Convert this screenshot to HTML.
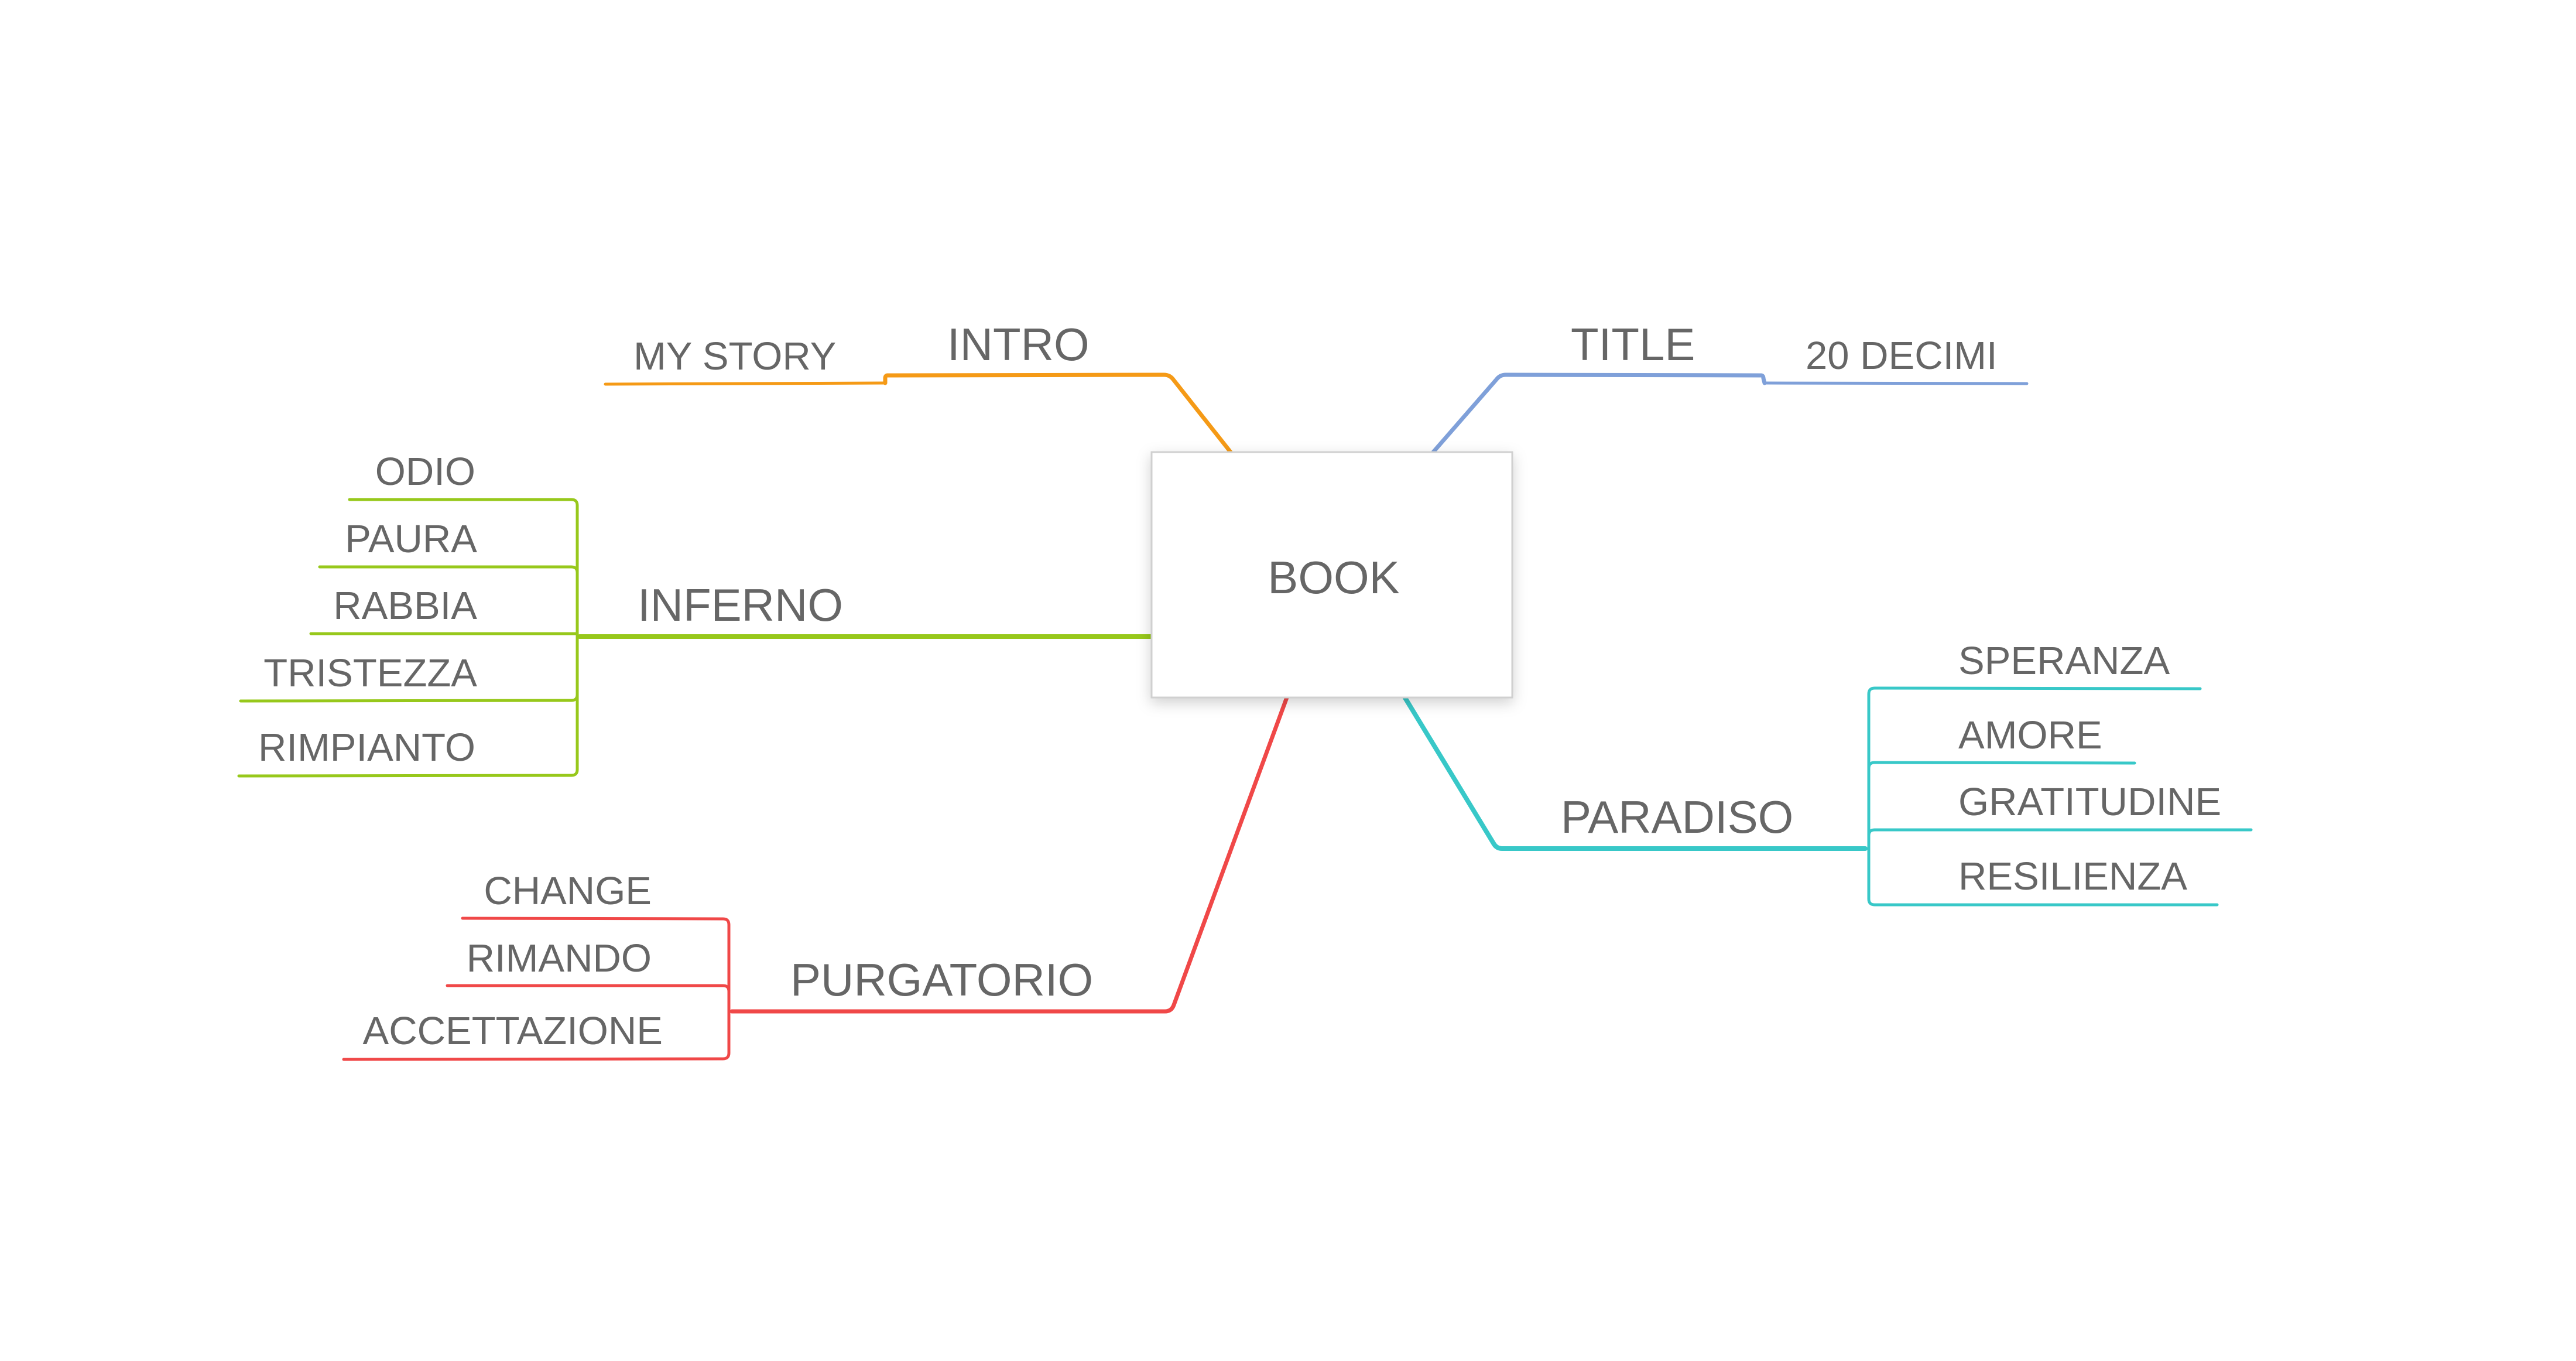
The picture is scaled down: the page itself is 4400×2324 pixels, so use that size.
<!DOCTYPE html>
<html><head><meta charset="utf-8"><style>
html,body{margin:0;padding:0;background:#fff;}
svg{display:block;}
text{font-family:"Liberation Sans",Arial,sans-serif;fill:#666;}
</style></head><body>
<svg width="4400" height="2324" viewBox="0 0 4400 2324" xmlns="http://www.w3.org/2000/svg">
<defs>
<filter id="sh" x="-20%" y="-20%" width="140%" height="140%">
<feDropShadow dx="0" dy="8" stdDeviation="12" flood-color="#000" flood-opacity="0.18"/>
</filter>
</defs>
<g fill="none" stroke-linecap="round" stroke-linejoin="round">
<!-- INTRO orange -->
<path d="M2102,772 L2004,648 Q1998,640 1988,640 L1516,641 Q1512,641 1512,646 L1512,654" stroke="#f59a16" stroke-width="7"/>
<path d="M1512,654 L1034,656" stroke="#f59a16" stroke-width="5"/>
<!-- TITLE blue -->
<path d="M2448,772 L2556,648 Q2562,640 2572,640 L3008,641 Q3012,641 3012,646 L3014,654" stroke="#7fa0d9" stroke-width="7"/>
<path d="M3014,654 L3462,655" stroke="#7fa0d9" stroke-width="5"/>
<!-- INFERNO green -->
<path d="M1967,1087 L990,1087" stroke="#97c81b" stroke-width="8"/>
<g stroke="#97c81b" stroke-width="5">
<path d="M986,1087 L986,863 Q986,853 976,853 L597,853"/>
<path d="M986,1087 L986,978 Q986,968 976,968 L546,968"/>
<path d="M986,1087 L986,1082 L531,1082"/>
<path d="M986,1087 L986,1186 Q986,1196 976,1196 L411,1197"/>
<path d="M986,1087 L986,1314 Q986,1324 976,1324 L408,1325"/>
</g>
<!-- PURGATORIO red -->
<path d="M2198,1191 L2005,1716 Q2001,1727 1990,1727 L1250,1727" stroke="#f04848" stroke-width="7"/>
<g stroke="#f04848" stroke-width="5">
<path d="M1245,1727 L1245,1579 Q1245,1569 1235,1569 L790,1568"/>
<path d="M1245,1727 L1245,1693 Q1245,1683 1235,1683 L764,1683"/>
<path d="M1245,1727 L1245,1798 Q1245,1808 1235,1808 L587,1809"/>
</g>
<!-- PARADISO cyan -->
<path d="M2399,1190 L2551,1440 Q2556,1449 2566,1449 L3186,1449" stroke="#38c8c8" stroke-width="8"/>
<g stroke="#38c8c8" stroke-width="5">
<path d="M3192,1449 L3192,1185 Q3192,1175 3202,1175 L3758,1176"/>
<path d="M3192,1449 L3192,1312 Q3192,1302 3202,1302 L3646,1303"/>
<path d="M3192,1449 L3192,1427 Q3192,1417 3202,1417 L3845,1417"/>
<path d="M3192,1449 L3192,1535 Q3192,1545 3202,1545 L3787,1545"/>
</g>
</g>
<!-- central box -->
<rect x="1967" y="772" width="616" height="419" fill="#fff" stroke="#d0d0d0" stroke-width="3" filter="url(#sh)"/>
<text x="2278" y="1013" font-size="78" text-anchor="middle">BOOK</text>
<!-- main labels -->
<text x="1618" y="615" font-size="78">INTRO</text>
<text x="2683" y="615" font-size="78">TITLE</text>
<text x="1089" y="1060" font-size="78">INFERNO</text>
<text x="1350" y="1700" font-size="78">PURGATORIO</text>
<text x="2666" y="1422" font-size="78">PARADISO</text>
<!-- children -->
<g font-size="67">
<text x="1082" y="631">MY STORY</text>
<text x="3084" y="630">20 DECIMI</text>
<text x="812" y="828" text-anchor="end">ODIO</text>
<text x="815" y="943" text-anchor="end">PAURA</text>
<text x="815" y="1057" text-anchor="end">RABBIA</text>
<text x="815" y="1172" text-anchor="end">TRISTEZZA</text>
<text x="812" y="1299" text-anchor="end">RIMPIANTO</text>
<text x="1113" y="1544" text-anchor="end">CHANGE</text>
<text x="1113" y="1659" text-anchor="end">RIMANDO</text>
<text x="1132" y="1783" text-anchor="end">ACCETTAZIONE</text>
<text x="3345" y="1151">SPERANZA</text>
<text x="3345" y="1278">AMORE</text>
<text x="3345" y="1392">GRATITUDINE</text>
<text x="3345" y="1519">RESILIENZA</text>
</g>
</svg>
</body></html>
